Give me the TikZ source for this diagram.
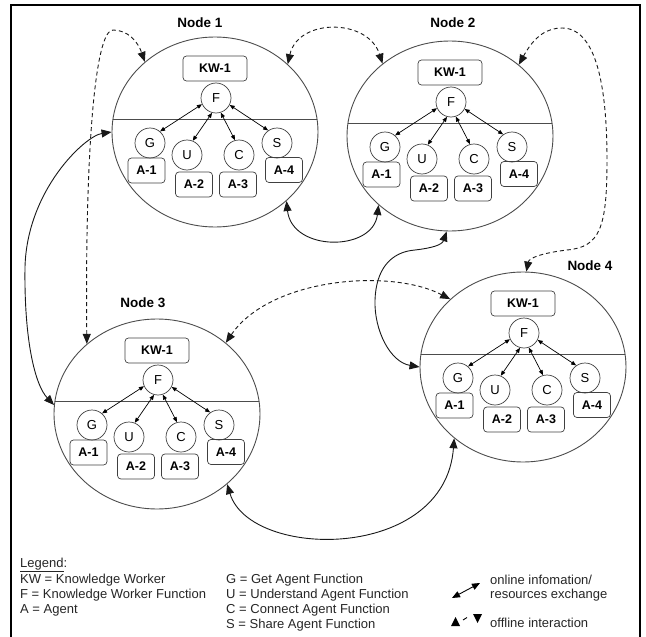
\documentclass[tikz,border=0pt]{standalone}
\usepackage{fontspec}
\setmainfont{Liberation Sans}
\usetikzlibrary{shapes.geometric,arrows.meta}
\newcommand{\agentnode}[3]{%
  \node[ellnode] (#1) at (#2,#3) {};
  \coordinate (#1-cl) at ({#2-101.9},{#3-13});
  \coordinate (#1-cr) at ({#2+101.9},{#3-13});
  \draw[chord] (#1-cl) -- (#1-cr);
  \node[kwbox] (#1-kw) at (#2,{#3-63.5}) {KW-1};
  \node[fcirc] (#1-f) at ({#2+1},{#3-34}) {F};
  \node[fcirc] (#1-g) at ({#2-65},{#3+11}) {G};
  \node[fcirc] (#1-u) at ({#2-28},{#3+23}) {U};
  \node[fcirc] (#1-c) at ({#2+24},{#3+23}) {C};
  \node[fcirc] (#1-s) at ({#2+62},{#3+11}) {S};
  \node[abox] (#1-a1) at ({#2-68.5},{#3+38.5}) {A-1};
  \node[abox] (#1-a2) at ({#2-21},{#3+52.5}) {A-2};
  \node[abox] (#1-a3) at ({#2+23},{#3+52.5}) {A-3};
  \node[abox] (#1-a4) at ({#2+69},{#3+38}) {A-4};
  \draw[inarr] (#1-f.-156) -- (#1-g.49);
  \draw[inarr] (#1-f.-105) -- (#1-u.68);
  \draw[inarr] (#1-f.-72) -- (#1-c.105);
  \draw[inarr] (#1-f.-27) -- (#1-s.125);
}
\begin{document}
\begin{tikzpicture}[x=1pt,y=-1pt,
  ellnode/.style={ellipse,draw=black!70,line width=0.9pt,minimum width=206pt,minimum height=190pt,inner sep=0pt},
  chord/.style={draw=black!70,line width=0.9pt},
  kwbox/.style={draw=black!75,line width=0.7pt,rounded corners=3.5pt,minimum width=64pt,minimum height=25pt,inner sep=0pt,font=\fontsize{12.5}{14}\selectfont\bfseries},
  abox/.style={kwbox,minimum width=37pt},
  fcirc/.style={circle,draw=black!75,line width=0.7pt,minimum size=30pt,inner sep=0pt,font=\fontsize{13}{15}\selectfont},
  inarr/.style={{Triangle[length=5pt,width=4pt]}-{Triangle[length=5pt,width=4pt]},line width=0.7pt},
  onl/.style={{Triangle[length=10pt,width=8pt]}-{Triangle[length=10pt,width=8pt]},line width=0.9pt,black!90},
  offl/.style={onl,dash pattern=on 4pt off 3pt},
  nlabel/.style={font=\fontsize{13.5}{15}\selectfont\bfseries},
  legtext/.style={anchor=west,inner sep=0pt,font=\fontsize{13}{15}\selectfont,text=black!85}
]
\useasboundingbox (0,0) rectangle (646,637);
\draw[line width=2pt] (11,640) -- (11,5) -- (640,5) -- (640,640);

\agentnode{n1}{215}{132}
\agentnode{n2}{450}{136}
\agentnode{n3}{157}{414}
\agentnode{n4}{523}{367}

\node[nlabel] (l1) at (200,23) {Node 1};
\node[nlabel] (l2) at (453,23) {Node 2};
\node[nlabel] (l3) at (143,303) {Node 3};
\node[nlabel] (l4) at (590,266) {Node 4};

% offline interactions (dashed)
\draw[offl] (n3.135) .. controls (85,150) and (95,30) .. (113,30) .. controls (128,30) and (138,42) .. (n1.135);
\draw[offl] (n1.43) .. controls (298,18) and (368,18) .. (n2.133);
\draw[offl] (n2.46) .. controls (535,35) and (548,28) .. (562,28) .. controls (600,28) and (607,100) .. (607,160) .. controls (607,228) and (600,247) .. (567,250) .. controls (542,253) and (529,258) .. (n4.88);
\draw[offl] (n3.46) .. controls (270,278) and (390,268) .. (n4.137);

% online exchanges (solid)
\draw[onl] (n1.180) .. controls (85,136) and (27,190) .. (25,267) .. controls (24,340) and (35,385) .. (n3.175);
\draw[onl] (n1.-44) .. controls (292,252) and (373,252) .. (n2.-136);
\draw[onl] (n4.180) .. controls (390,362) and (374,330) .. (375,300) .. controls (376,270) and (390,252) .. (415,250) .. controls (432,248) and (442,245) .. (n2.-92);
\draw[onl] (n3.-45) .. controls (250,560) and (445,562) .. (n4.-134);

% legend
\node[legtext] (lg0) at (20,565) {\underline{Legend}:};
\node[legtext] (lg1) at (20,580) {KW = Knowledge Worker};
\node[legtext] (lg2) at (20,595) {F = Knowledge Worker Function};
\node[legtext] (lg3) at (20,610) {A = Agent};
\node[legtext] (lg4) at (226,580) {G = Get Agent Function};
\node[legtext] (lg5) at (226,595) {U = Understand Agent Function};
\node[legtext] (lg6) at (226,610) {C = Connect Agent Function};
\node[legtext] (lg7) at (226,625) {S = Share Agent Function};
\node[legtext] (lg8) at (490,580) {online infomation/};
\node[legtext] (lg9) at (490,595) {resources exchange};
\node[legtext] (lg10) at (490,623) {offline interaction};

\coordinate (ia) at (452,598);
\coordinate (ib) at (480,583);
\draw[{Triangle[length=8pt,width=6.5pt]}-{Triangle[length=8pt,width=6.5pt]},line width=0.9pt] (ia) -- (ib);
\fill (451,626) -- (460,626) -- (455.5,617) -- cycle;
\fill (473,614) -- (482,614) -- (477.5,623) -- cycle;
\draw[line width=0.9pt] (463,620) -- (467,617.5);
\end{tikzpicture}
\end{document}
